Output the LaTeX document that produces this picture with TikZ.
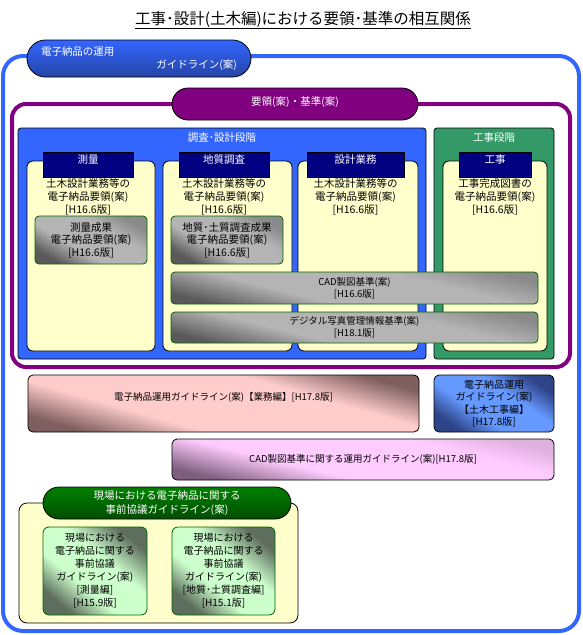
\documentclass[tikz,border=0pt]{standalone}
\usepackage{fontspec}
\setmainfont{Noto Sans CJK JP}
\usepackage{xcolor}
\usetikzlibrary{positioning}
\definecolor{opsBlue}{HTML}{3366FF}
\definecolor{opsBlueDark}{HTML}{2544A6}
\definecolor{stdPurple}{HTML}{800080}
\definecolor{stageGreen}{HTML}{339966}
\definecolor{headNavy}{HTML}{000080}
\definecolor{paleYellow}{HTML}{FFFFCC}
\definecolor{grayLight}{HTML}{B4B4B4}
\definecolor{grayMid}{HTML}{8A8A8A}
\definecolor{grayDark}{HTML}{5A5A5A}
\definecolor{borderGreen}{HTML}{006600}
\definecolor{pinkLight}{HTML}{FFCCCC}
\definecolor{pinkDark}{HTML}{7E5E5E}
\definecolor{skyLight}{HTML}{6699FF}
\definecolor{skyDark}{HTML}{2E4488}
\definecolor{lilacLight}{HTML}{FFCCFF}
\definecolor{lilacDark}{HTML}{7E5E7E}
\definecolor{siteGreen}{HTML}{008000}
\definecolor{siteGreenDark}{HTML}{004D00}
\definecolor{mintLight}{HTML}{CCFFCC}
\definecolor{mintDark}{HTML}{5E6E5E}

% diagonal shadings, dark towards bottom-left and top-right
\pgfdeclareverticalshading{grayshade}{100bp}{color(0bp)=(grayDark); color(25bp)=(grayDark);
  color(40bp)=(grayLight); color(62bp)=(grayLight); color(75bp)=(grayMid); color(100bp)=(grayMid)}
\pgfdeclareverticalshading{pinkshade}{100bp}{color(0bp)=(pinkDark); color(25bp)=(pinkDark);
  color(38bp)=(pinkLight); color(62bp)=(pinkLight); color(75bp)=(pinkDark); color(100bp)=(pinkDark)}
\pgfdeclareverticalshading{skyshade}{100bp}{color(0bp)=(skyDark); color(25bp)=(skyDark);
  color(40bp)=(skyLight); color(60bp)=(skyLight); color(75bp)=(skyDark); color(100bp)=(skyDark)}
\pgfdeclareverticalshading{lilacshade}{100bp}{color(0bp)=(lilacDark); color(25bp)=(lilacDark);
  color(40bp)=(lilacLight); color(64bp)=(lilacLight); color(75bp)=(lilacLight!75!lilacDark); color(100bp)=(lilacLight!75!lilacDark)}
\pgfdeclareverticalshading{mintshade}{100bp}{color(0bp)=(mintDark); color(25bp)=(mintDark);
  color(40bp)=(mintLight); color(58bp)=(mintLight); color(75bp)=(mintDark); color(100bp)=(mintDark)}

\begin{document}
\begin{tikzpicture}[
  x=1pt, y=-1pt,
  font=\fontsize{10}{12.5}\selectfont,
  box/.style={anchor=north west, inner sep=0pt, outer sep=0pt, align=center},
  frameline/.style={box, line width=4pt},
  pill/.style={box, draw=black, line width=0.8pt, text=white,
    font=\fontsize{10.5}{13}\selectfont},
  stagebox/.style={box, draw=black, line width=0.8pt, rounded corners=3pt,
    minimum height=231pt},
  stagetitle/.style={text=white, inner sep=0pt, font=\fontsize{10.5}{13}\selectfont},
  colbox/.style={box, draw=black, line width=0.8pt, fill=paleYellow,
    rounded corners=6pt, minimum height=190pt},
  headbox/.style={draw=black, line width=0.8pt, fill=headNavy, text=white,
    anchor=north, outer sep=0pt, minimum height=25pt, inner ysep=2pt,
    text height=9pt, text depth=12pt, font=\fontsize{10.5}{13}\selectfont},
  coltext/.style={align=center, inner sep=0pt, font=\fontsize{10.5}{13}\selectfont},
  diagshade/.style 2 args={shading=#1, shading angle=#2},
  stdbox/.style={box, draw=borderGreen, line width=0.8pt, rounded corners=4pt,
    font=\fontsize{10.5}{12.5}\selectfont},
  guidebox/.style={box, draw=black, line width=0.8pt, rounded corners=5pt},
]
\useasboundingbox (0,0) rectangle (582,635);

% title
\node[font=\fontsize{15.5}{18}\selectfont] (title) at (303,20)
  {\underline{工事･設計(土木編)における要領･基準の相互関係}};

% operation guideline frame
\node[frameline, draw=opsBlue, rounded corners=20pt,
  minimum width=576pt, minimum height=575pt] (opsframe) at (3,56) {};
\node[pill, top color=opsBlue, bottom color=opsBlueDark, rounded corners=18.5pt,
  minimum width=224pt, minimum height=37pt] (opstab) at (27,40)
  {\makebox[196pt][l]{電子納品の運用}\\\makebox[196pt][r]{ガイドライン(案)}};

% standards frame
\node[frameline, draw=stdPurple, rounded corners=14pt,
  minimum width=558pt, minimum height=263pt] (stdframe) at (12,104) {};
\node[pill, fill=stdPurple, rounded corners=16pt,
  minimum width=246pt, minimum height=32pt, text depth=6pt] (stdtab) at (172,88)
  {要領(案)・基準(案)};

% stages
\node[stagebox, fill=opsBlue, minimum width=408pt] (designstage) at (18,128) {};
\node[stagebox, fill=stageGreen, minimum width=120pt] (worksstage) at (434,128) {};
\node[stagetitle] (designtitle) at (222,138) {調査･設計段階};
\node[stagetitle] (workstitle) at (494,138) {工事段階};

% columns
\node[colbox, minimum width=128pt] (surveycol) at (27,161) {};
\node[colbox, minimum width=129pt] (geocol) at (163,161) {};
\node[colbox, minimum width=120pt] (designcol) at (298,161) {};
\node[colbox, minimum width=104pt] (workscol) at (443,161) {};

\node[headbox, minimum width=90pt] (surveyhead) at (88,152) {測量};
\node[headbox, minimum width=90pt] (geohead) at (224,152) {地質調査};
\node[headbox, minimum width=97pt] (designhead) at (355.5,152) {設計業務};
\node[headbox, minimum width=72pt] (workshead) at (495,152) {工事};

\node[coltext, below=1pt of surveyhead] (surveytext)
  {土木設計業務等の\\電子納品要領(案)\\{}[H16.6版]};
\node[coltext, below=1pt of geohead] (geotext)
  {土木設計業務等の\\電子納品要領(案)\\{}[H16.6版]};
\node[coltext, below=1pt of designhead] (designtext)
  {土木設計業務等の\\電子納品要領(案)\\{}[H16.6版]};
\node[coltext, below=1pt of workshead] (workstext)
  {工事完成図書の\\電子納品要領(案)\\{}[H16.6版]};

% standards
\node[stdbox, diagshade={grayshade}{-30}, minimum width=112pt, minimum height=48pt]
  (surveyresult) at (35,216) {測量成果\\電子納品要領(案)\\{}[H16.6版]};
\node[stdbox, diagshade={grayshade}{-30}, minimum width=112pt, minimum height=48pt]
  (georesult) at (171,216) {地質･土質調査成果\\電子納品要領(案)\\{}[H16.6版]};
\node[stdbox, diagshade={grayshade}{-14}, minimum width=367pt, minimum height=32pt,
  font=\fontsize{9.5}{12}\selectfont] (cadstd) at (171,272)
  {CAD製図基準(案)\\{}[H16.6版]};
\node[stdbox, diagshade={grayshade}{-14}, minimum width=367pt, minimum height=31pt,
  font=\fontsize{9.5}{12}\selectfont] (photostd) at (171,312)
  {デジタル写真管理情報基準(案)\\{}[H18.1版]};

% operation guidelines
\node[guidebox, diagshade={pinkshade}{-16},
  minimum width=391pt, minimum height=57pt, text height=8pt, text depth=14pt,
  font=\fontsize{9.5}{12}\selectfont] (opsbiz) at (28,375)
  {電子納品運用ガイドライン(案)【業務編】[H17.8版]};
\node[guidebox, diagshade={skyshade}{-35},
  minimum width=120pt, minimum height=57pt] (opsworks) at (434,375)
  {電子納品運用\\ガイドライン(案)\\【土木工事編】\\{}[H17.8版]};
\node[guidebox, diagshade={lilacshade}{-14},
  minimum width=382pt, minimum height=41pt,
  font=\fontsize{9.5}{12}\selectfont] (cadops) at (172,439)
  {CAD製図基準に関する運用ガイドライン(案)[H17.8版]};

% on-site consultation
\node[guidebox, fill=paleYellow, rounded corners=8pt,
  minimum width=279pt, minimum height=120pt] (sitebox) at (19,503) {};
\node[pill, top color=siteGreen, bottom color=siteGreenDark, rounded corners=16pt,
  minimum width=248pt, minimum height=32pt,
  font=\fontsize{10.5}{14}\selectfont] (sitetab) at (43,487)
  {現場における電子納品に関する\\事前協議ガイドライン(案)};
\node[guidebox, draw=borderGreen, diagshade={mintshade}{-40},
  rounded corners=6pt, minimum width=104pt, minimum height=88pt,
  font=\fontsize{10}{13}\selectfont] (sitesurvey) at (43,527)
  {現場における\\電子納品に関する\\事前協議\\ガイドライン(案)\\{}[測量編]\\{}[H15.9版]};
\node[guidebox, draw=borderGreen, diagshade={mintshade}{-40},
  rounded corners=6pt, minimum width=103pt, minimum height=88pt,
  font=\fontsize{10}{13}\selectfont] (sitegeo) at (172,527)
  {現場における\\電子納品に関する\\事前協議\\ガイドライン(案)\\{}[地質･土質調査編]\\{}[H15.1版]};

\end{tikzpicture}
\end{document}
